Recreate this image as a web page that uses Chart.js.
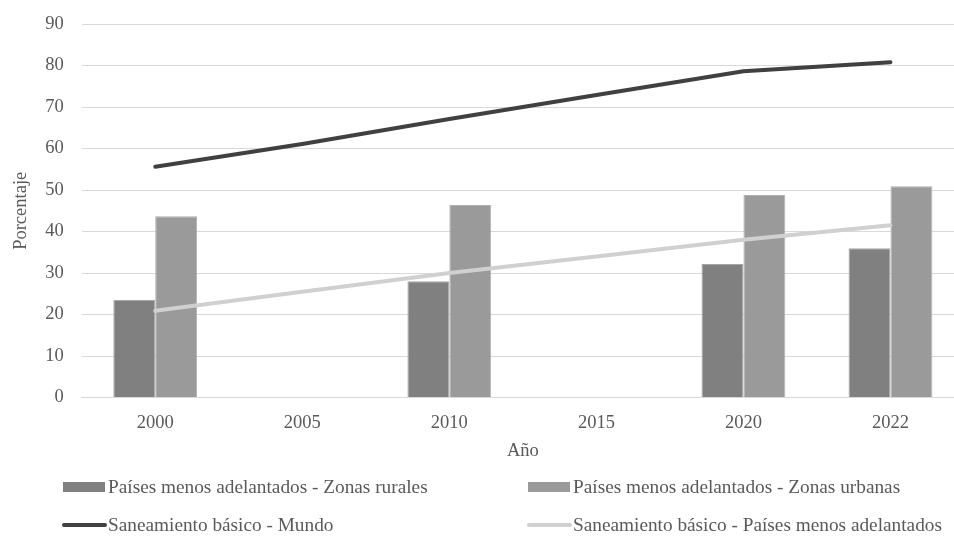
<!DOCTYPE html>
<html>
<head>
<meta charset="utf-8">
<script src="https://cdn.jsdelivr.net/npm/chart.js@4"></script>
<style>
  html, body { margin: 0; padding: 0; background: #fff; overflow: hidden; }
  #wrap { width: 964px; height: 536px; position: relative; }
</style>
</head>
<body>
<div id="wrap"><canvas id="myChart"></canvas></div>
<script>
const years = ["2000", "2005", "2010", "2015", "2020", "2022"];
const rural = [23.6, null, 28.0, null, 32.2, 36.0];
const urbana = [43.7, null, 46.4, null, 48.8, 50.9];
const mundo = [55.6, 61.1, 67.1, 72.9, 78.6, 80.8];
const pma = [20.9, 25.5, 30.0, 34.0, 38.0, 41.5];

const yTicks = [0, 10, 20, 30, 40, 50, 60, 70, 80, 90];

const serif = "'Liberation Serif', 'Times New Roman', serif";

// legend drawn by hand in two columns, like the original
const legendCols = [63, 528];
const legendRows = [487, 525];

const twoColLegend = {
  id: "twoColLegend",
  afterDraw(chart) {
    const ctx = chart.ctx;
    ctx.save();
    ctx.font = "19.3px " + serif;
    ctx.textBaseline = "middle";
    chart.data.datasets.forEach((ds, i) => {
      const x = legendCols[i % 2];
      const y = legendRows[Math.floor(i / 2)];
      if (ds.type === "line") {
        ctx.strokeStyle = ds.borderColor;
        ctx.lineWidth = 4;
        ctx.lineCap = "round";
        ctx.beginPath();
        ctx.moveTo(x + 1, y);
        ctx.lineTo(x + 42, y);
        ctx.stroke();
      } else {
        ctx.fillStyle = ds.backgroundColor;
        ctx.fillRect(x, y - 5, 42, 10);
      }
      ctx.fillStyle = "#595959";
      ctx.fillText(ds.label, x + 45, y + 1);
    });
    ctx.restore();
  }
};

new Chart("myChart", {
  data: {
    labels: years,
    datasets: [{
      type: "bar",
      label: "Países menos adelantados - Zonas rurales",
      data: rural,
      backgroundColor: "#808080",
      borderColor: "#a6a6a6",
      borderWidth: 1,
      order: 3
    }, {
      type: "bar",
      label: "Países menos adelantados - Zonas urbanas",
      data: urbana,
      backgroundColor: "#9a9a9a",
      borderColor: "#b0b0b0",
      borderWidth: 1,
      order: 3
    }, {
      type: "line",
      label: "Saneamiento básico - Mundo",
      data: mundo,
      borderColor: "#404040",
      backgroundColor: "#404040",
      borderWidth: 4,
      pointRadius: 0,
      borderCapStyle: "round",
      fill: false,
      order: 1
    }, {
      type: "line",
      label: "Saneamiento básico - Países menos adelantados",
      data: pma,
      borderColor: "#d0d0d0",
      backgroundColor: "#d0d0d0",
      borderWidth: 4,
      pointRadius: 0,
      borderCapStyle: "round",
      fill: false,
      order: 2
    }]
  },
  options: {
    responsive: true,
    maintainAspectRatio: false,
    animation: false,
    layout: { padding: { top: 0, right: 0, bottom: 70, left: 10 } },
    datasets: {
      bar: { barPercentage: 1.0, categoryPercentage: 0.57, grouped: true }
    },
    plugins: {
      legend: { display: false },
      tooltip: { enabled: false }
    },
    scales: {
      x: {
        grid: { display: false, drawTicks: false },
        border: { display: true, color: "#d9d9d9", width: 1 },
        ticks: { color: "#595959", font: { family: serif, size: 18.5 }, padding: 14 },
        title: { display: true, text: "Año", color: "#595959", font: { family: serif, size: 18.5 }, padding: { top: -8, bottom: 4 } }
      },
      y: {
        min: 0,
        max: 90,
        afterBuildTicks(axis) { axis.ticks = yTicks.map(v => ({ value: v })); },
        // tick padding also pads the top; keep the top edge where the original has it
        afterFit(axis) { axis.paddingTop = 24; },
        grid: { color: "#d9d9d9", lineWidth: 1, drawTicks: false },
        border: { display: false },
        ticks: { color: "#595959", font: { family: serif, size: 18.5 }, padding: 18 },
        title: { display: true, text: "Porcentaje", color: "#595959", font: { family: serif, size: 18.5 }, padding: { top: 0, bottom: -5 } }
      }
    }
  },
  plugins: [twoColLegend]
});
</script>
</body>
</html>
